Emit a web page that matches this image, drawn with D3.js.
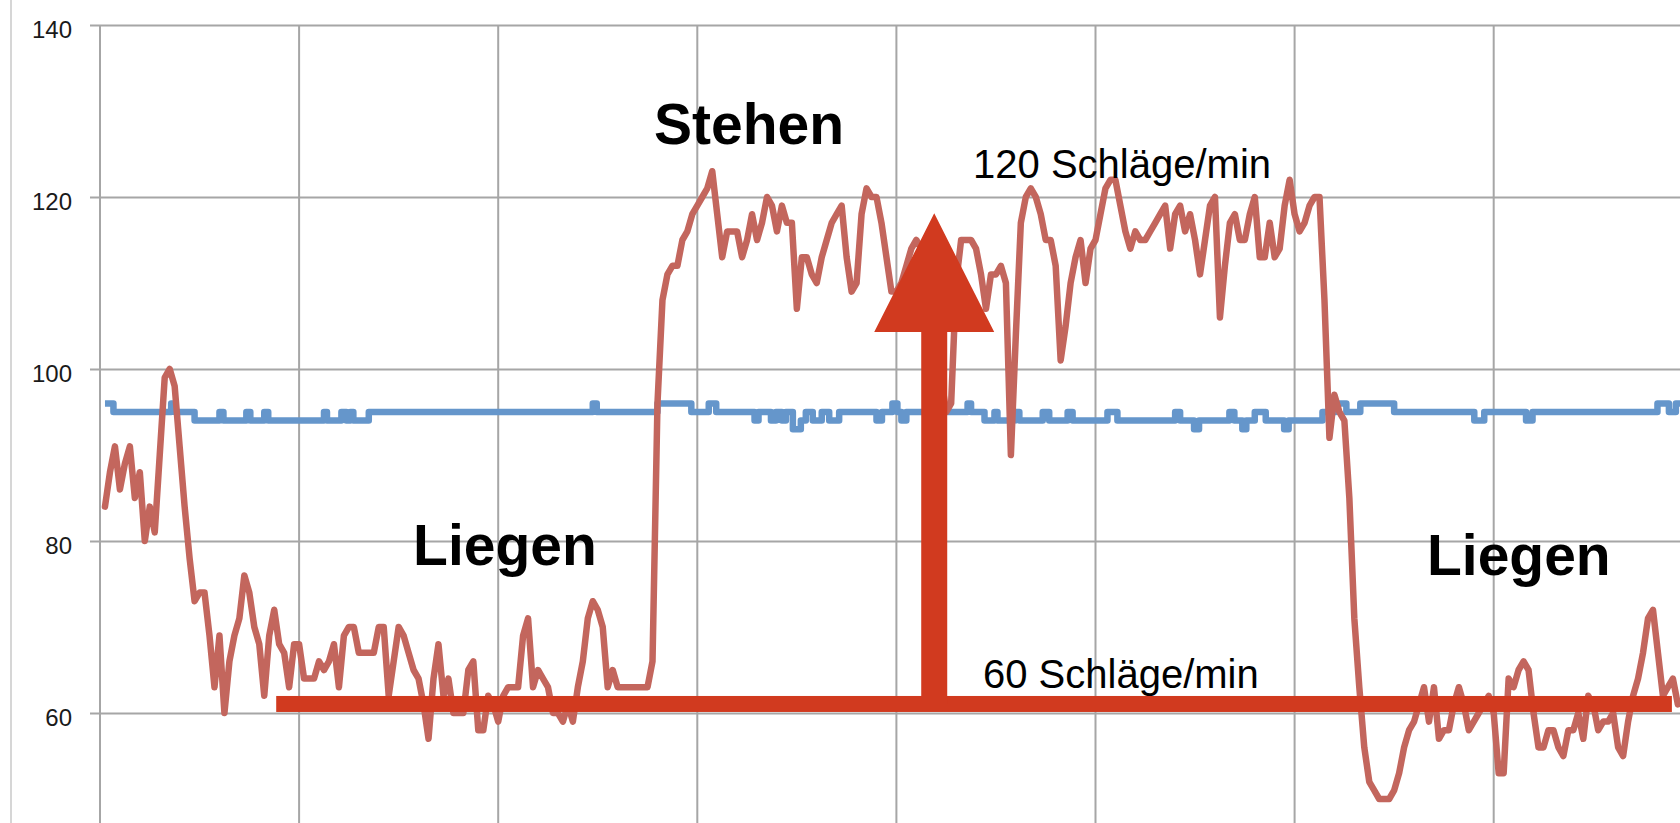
<!DOCTYPE html>
<html>
<head>
<meta charset="utf-8">
<title>Liegen / Stehen</title>
<script src="https://cdn.jsdelivr.net/npm/d3@7"></script>
<style>
  html, body { margin: 0; padding: 0; background: #fff; overflow: hidden; }
  svg { display: block; }
</style>
</head>
<body>
<svg id="SVG_CONTAINER" width="1680" height="823"></svg>
<script>
let d3 = window.d3;

// heart rate (red line), one reading per x step, first reading at x = 1
const heartRate = [
  84, 88, 91, 86, 89, 91, 85, 88, 80, 84,
  81, 90, 99, 100, 98, 91, 84, 78, 73, 74,
  74, 69, 63, 69, 60, 66, 69, 71, 76, 74,
  70, 68, 62, 69, 72, 68, 67, 63, 68, 68,
  64, 64, 64, 66, 65, 66, 68, 63, 69, 70,
  70, 67, 67, 67, 67, 70, 70, 62, 66, 70,
  69, 67, 65, 64, 61, 57, 64, 68, 62, 64,
  60, 60, 60, 65, 66, 58, 58, 62, 61, 59,
  62, 63, 63, 63, 69, 71, 63, 65, 64, 63,
  60, 60, 59, 61, 59, 63, 66, 71, 73, 72,
  70, 63, 65, 63, 63, 63, 63, 63, 63, 63,
  66, 96, 108, 111, 112, 112, 115, 116, 118, 119,
  120, 121, 123, 118, 113, 116, 116, 116, 113, 115,
  118, 115, 117, 120, 119, 116, 119, 117, 117, 107,
  113, 113, 111, 110, 113, 115, 117, 118, 119, 113,
  109, 110, 118, 121, 120, 120, 117, 113, 109, 109,
  110, 112, 114, 115, 114, 112, 108, 104, 99, 95,
  96, 110, 115, 115, 115, 114, 111, 107, 111, 111,
  112, 110, 90, 104, 117, 120, 121, 120, 118, 115,
  115, 112, 101, 105, 110, 113, 115, 110, 114, 115,
  118, 121, 122, 122, 119, 116, 114, 116, 115, 115,
  116, 117, 118, 119, 114, 118, 119, 116, 118, 115,
  111, 115, 119, 120, 106, 112, 117, 118, 115, 115,
  118, 120, 113, 113, 117, 113, 114, 119, 122, 118,
  116, 117, 119, 120, 120, 108, 92, 97, 95, 94,
  85, 71, 63, 56, 52, 51, 50, 50, 50, 51,
  53, 56, 58, 59, 61, 63, 59, 63, 57, 58,
  58, 61, 63, 61, 58, 59, 60, 61, 62, 60,
  53, 53, 64, 63, 65, 66, 65, 60, 56, 56,
  58, 58, 56, 55, 58, 58, 60, 57, 62, 61,
  58, 59, 59, 60, 56, 55, 59, 62, 64, 67,
  71, 72, 67, 62, 63, 64, 61
];

// blue line: x where the value changes, and the new value
const spo2At = [
  1, 2.7, 14.3, 15, 19, 24, 24.8, 29.4, 30.2, 33, 33.8, 45, 45.6, 48.5, 49.5,
  50.3, 50.9, 54, 99, 99.8, 112, 118.8, 122.3, 123.8, 131.5, 132.3, 134.8,
  135.8, 137, 137.8, 139.2, 140.8, 141.8, 143.2, 145, 146.5, 148.5, 156,
  157.1, 159.2, 160.2, 161, 162, 174.3, 175, 177.7, 179.7, 180.3, 183.7,
  184.7, 189.4, 190.7, 194.4, 195.4, 202.4, 204.4, 216, 217, 219.8, 220.8,
  226.9, 227.9, 229.5, 230.3, 232, 234.2, 237.9, 238.8, 245.6, 248.3, 250.4,
  253.2, 260, 276.1, 278.1, 286.5, 287.8, 312.9, 315.2, 316.6, 318
];
const spo2 = [
  96, 95, 96, 95, 94, 95, 94, 95, 94, 95, 94, 95, 94, 95, 94,
  95, 94, 95, 96, 95, 96, 95, 96, 95, 94, 95, 94,
  95, 94, 95, 93, 94, 95, 94, 95, 94, 95, 94,
  95, 96, 95, 94, 95, 96, 95, 94, 95, 94, 95,
  94, 95, 94, 95, 94, 95, 94, 95, 94, 93, 94,
  95, 94, 93, 94, 95, 94, 93, 94, 95, 96, 95,
  96, 95, 94, 95, 94, 95, 96, 95, 96, 96
];

const yTicks = [60, 80, 100, 120, 140];
const xGrid = [0, 40, 80, 120, 160, 200, 240, 280, 320];
const phaseNames = ["Liegen", "Stehen", "Liegen"];
const rateNames = ["120 Schläge/min", "60 Schläge/min"];

const MARGIN = {
    "LEFT": 100,
    "TOP": 25,
};

//dimension of our workspace
const   width  = 1680,
        height = 823;

const GRID_W = 199.1;  // px between two vertical grid lines
const Y_UNIT = 8.6;    // px per beat

// where the hand drawn notes sit, in chart units
const NOTES = {
    phases: [[62.9, 77.2], [111.3, 126.2], [266.6, 76.0]],
    rates: [[175.4, 122.2], [177.4, 62.9]],
    bar: { from: 35.4, to: 315.8, level: 61.05, thick: 16 },
    arrow: { x: 167.6, tip: 118.1, base: 104.3, shaft: 13, head: 60 }
};

const FONT = "'Liberation Sans', Arial, Helvetica, sans-serif";

let _chart;

window.onload = function () {
    let svg = d3.select("#SVG_CONTAINER");
    _chart = new pulseChart(svg);
    _chart.draw();
};

let pulseChart = function (svg) {

    let redData = heartRate.map((v, i) => ({ x: i + 1, v: v }));
    let blueData = spo2At.map((x, i) => ({ x: x, v: spo2[i] }));

    let xScale = d3.scaleLinear()
        .domain([0, 320])
        .range([MARGIN.LEFT, MARGIN.LEFT + 8 * GRID_W]);

    // 40 sits below the picture, the bottom of the plot is cut off
    let yScale = d3.scaleLinear()
        .domain([40, 140])
        .range([MARGIN.TOP + 100 * Y_UNIT, MARGIN.TOP]);

    this.draw = function () {

        svg.append("rect")
            .attr("width", width)
            .attr("height", height)
            .attr("fill", "#ffffff");

        // faint window edge on the left
        svg.append("line")
            .attr("x1", 11).attr("x2", 11)
            .attr("y1", 0).attr("y2", height)
            .attr("stroke", "#d6d6d6")
            .attr("stroke-width", 2);

        let chart = svg.append("g").attr("class", "pulse");

        // horizontal grid + labels
        let yAxis = d3.axisLeft(yScale)
            .tickValues(yTicks)
            .tickSize(-(width - MARGIN.LEFT + 10))
            .tickPadding(18);

        let yg = chart.append("g")
            .attr("transform", "translate(" + (MARGIN.LEFT - 10) + ",0)")
            .call(yAxis);
        yg.select(".domain").remove();
        yg.selectAll("line")
            .attr("stroke", "#a6a6a6")
            .attr("stroke-width", 2);
        yg.selectAll("text")
            .attr("dy", "0.5em")
            .style("font-family", FONT)
            .style("font-size", "24px")
            .style("fill", "#1a1a1a");

        // vertical grid
        chart.append("g")
            .selectAll("line")
            .data(xGrid)
            .join("line")
            .attr("x1", d => xScale(d))
            .attr("x2", d => xScale(d))
            .attr("y1", yScale(140))
            .attr("y2", height)
            .attr("stroke", "#a6a6a6")
            .attr("stroke-width", 2);

        // blue series
        let stepLine = d3.line()
            .x(d => xScale(d.x))
            .y(d => yScale(d.v))
            .curve(d3.curveStepAfter);

        chart.append("path")
            .datum(blueData)
            .attr("d", stepLine)
            .attr("fill", "none")
            .attr("stroke", "#6596cb")
            .attr("stroke-width", 6.5)
            .attr("stroke-linejoin", "round");

        // heart rate
        let line = d3.line()
            .x(d => xScale(d.x))
            .y(d => yScale(d.v));

        chart.append("path")
            .datum(redData)
            .attr("d", line)
            .attr("fill", "none")
            .attr("stroke", "#c3665d")
            .attr("stroke-width", 6.5)
            .attr("stroke-linejoin", "round")
            .attr("stroke-linecap", "round");

        // 60 bpm bar
        let b = NOTES.bar;
        chart.append("rect")
            .attr("x", xScale(b.from))
            .attr("y", yScale(b.level) - b.thick / 2)
            .attr("width", xScale(b.to) - xScale(b.from))
            .attr("height", b.thick)
            .attr("fill", "#d13a1f");

        // arrow up to 120
        let a = NOTES.arrow;
        let ax = xScale(a.x),
            yTip = yScale(a.tip),
            yBase = yScale(a.base),
            yFoot = yScale(b.level);
        let pts = [
            [ax - a.shaft, yFoot], [ax - a.shaft, yBase], [ax - a.head, yBase],
            [ax, yTip],
            [ax + a.head, yBase], [ax + a.shaft, yBase], [ax + a.shaft, yFoot]
        ];
        chart.append("path")
            .attr("d", "M" + pts.join("L") + "Z")
            .attr("fill", "#d13a1f");

        // phase labels
        chart.append("g")
            .selectAll("text")
            .data(phaseNames)
            .join("text")
            .attr("x", (d, i) => xScale(NOTES.phases[i][0]))
            .attr("y", (d, i) => yScale(NOTES.phases[i][1]))
            .text(d => d)
            .style("font-family", FONT)
            .style("font-weight", "bold")
            .style("font-size", "57px")
            .style("fill", "#000");

        // rate labels
        chart.append("g")
            .selectAll("text")
            .data(rateNames)
            .join("text")
            .attr("x", (d, i) => xScale(NOTES.rates[i][0]))
            .attr("y", (d, i) => yScale(NOTES.rates[i][1]))
            .text(d => d)
            .style("font-family", FONT)
            .style("font-size", "40px")
            .style("fill", "#000");
    };
};
</script>
</body>
</html>
